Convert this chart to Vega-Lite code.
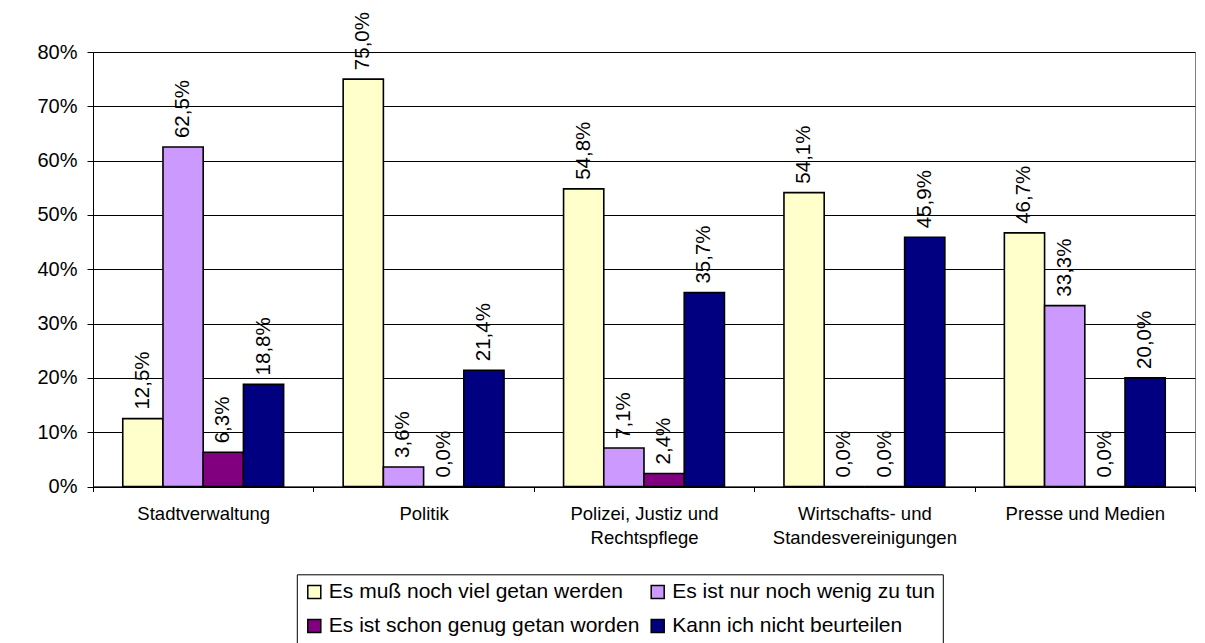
{
  "$schema": "https://vega.github.io/schema/vega-lite/v6.json",
  "width": 1102,
  "height": 434.5,
  "autosize": {"type": "none"},
  "padding": {"left": 93, "top": 52, "right": 10, "bottom": 156.5},
  "background": "white",
  "config": {
    "locale": {"number": {"decimal": ",", "thousands": ".", "grouping": [3], "currency": ["", " €"]}},
    "font": "Liberation Sans",
    "view": {"stroke": "#808080", "strokeWidth": 1},
    "axis": {"labelColor": "black", "tickColor": "black", "domainColor": "black", "labelFont": "Liberation Sans"}
  },
  "data": {
    "values": [
      {"bereich": "Stadtverwaltung", "antwort": "Es muß noch viel getan werden", "wert": 0.125},
      {"bereich": "Stadtverwaltung", "antwort": "Es ist nur noch wenig zu tun", "wert": 0.625},
      {"bereich": "Stadtverwaltung", "antwort": "Es ist schon genug getan worden", "wert": 0.063},
      {"bereich": "Stadtverwaltung", "antwort": "Kann ich nicht beurteilen", "wert": 0.188},
      {"bereich": "Politik", "antwort": "Es muß noch viel getan werden", "wert": 0.75},
      {"bereich": "Politik", "antwort": "Es ist nur noch wenig zu tun", "wert": 0.036},
      {"bereich": "Politik", "antwort": "Es ist schon genug getan worden", "wert": 0.0},
      {"bereich": "Politik", "antwort": "Kann ich nicht beurteilen", "wert": 0.214},
      {"bereich": "Polizei, Justiz und Rechtspflege", "antwort": "Es muß noch viel getan werden", "wert": 0.548},
      {"bereich": "Polizei, Justiz und Rechtspflege", "antwort": "Es ist nur noch wenig zu tun", "wert": 0.071},
      {"bereich": "Polizei, Justiz und Rechtspflege", "antwort": "Es ist schon genug getan worden", "wert": 0.024},
      {"bereich": "Polizei, Justiz und Rechtspflege", "antwort": "Kann ich nicht beurteilen", "wert": 0.357},
      {"bereich": "Wirtschafts- und Standesvereinigungen", "antwort": "Es muß noch viel getan werden", "wert": 0.541},
      {"bereich": "Wirtschafts- und Standesvereinigungen", "antwort": "Es ist nur noch wenig zu tun", "wert": 0.0},
      {"bereich": "Wirtschafts- und Standesvereinigungen", "antwort": "Es ist schon genug getan worden", "wert": 0.0},
      {"bereich": "Wirtschafts- und Standesvereinigungen", "antwort": "Kann ich nicht beurteilen", "wert": 0.459},
      {"bereich": "Presse und Medien", "antwort": "Es muß noch viel getan werden", "wert": 0.467},
      {"bereich": "Presse und Medien", "antwort": "Es ist nur noch wenig zu tun", "wert": 0.333},
      {"bereich": "Presse und Medien", "antwort": "Es ist schon genug getan worden", "wert": 0.0},
      {"bereich": "Presse und Medien", "antwort": "Kann ich nicht beurteilen", "wert": 0.2}
    ]
  },
  "encoding": {
    "x": {
      "field": "bereich",
      "type": "nominal",
      "sort": ["Stadtverwaltung", "Politik", "Polizei, Justiz und Rechtspflege", "Wirtschafts- und Standesvereinigungen", "Presse und Medien"],
      "scale": {"paddingInner": 0, "paddingOuter": 0},
      "axis": {
        "title": null,
        "labelAngle": 0,
        "labelFontSize": 18.5,
        "labelLineHeight": 24,
        "labelPadding": 13,
        "labelLimit": 300,
        "labelOverlap": false,
        "tickSize": 5,
        "tickBand": "extent",
        "grid": false,
        "labelExpr": "datum.label == 'Polizei, Justiz und Rechtspflege' ? ['Polizei, Justiz und', 'Rechtspflege'] : datum.label == 'Wirtschafts- und Standesvereinigungen' ? ['Wirtschafts- und', 'Standesvereinigungen'] : datum.label"
      }
    },
    "xOffset": {
      "field": "antwort",
      "type": "nominal",
      "sort": ["Es muß noch viel getan werden", "Es ist nur noch wenig zu tun", "Es ist schon genug getan worden", "Kann ich nicht beurteilen"],
      "scale": {"paddingInner": 0, "paddingOuter": 0.74}
    },
    "y": {
      "field": "wert",
      "type": "quantitative",
      "scale": {"domain": [0, 0.8], "nice": false},
      "axis": {
        "title": null,
        "values": [0, 0.1, 0.2, 0.3, 0.4, 0.5, 0.6, 0.7, 0.8],
        "format": ".0%",
        "labelFontSize": 20,
        "labelPadding": 10,
        "tickSize": 6,
        "grid": true,
        "gridColor": "black"
      }
    }
  },
  "layer": [
    {
      "mark": {"type": "bar", "stroke": "black", "strokeWidth": 1.6},
      "encoding": {
        "color": {
          "field": "antwort",
          "type": "nominal",
          "scale": {
            "domain": ["Es muß noch viel getan werden", "Es ist nur noch wenig zu tun", "Es ist schon genug getan worden", "Kann ich nicht beurteilen"],
            "range": ["#FFFFCC", "#CC99FF", "#800080", "#000080"]
          },
          "legend": {
            "title": null,
            "orient": "none",
            "direction": "horizontal",
            "legendX": 203.8,
            "legendY": 522.3,
            "columns": 2,
            "gridAlign": "all",
            "padding": 7,
            "rowPadding": 12.3,
            "columnPadding": 7.4,
            "strokeColor": "black",
            "labelFontSize": 21,
            "labelColor": "black",
            "labelFont": "Liberation Sans",
            "labelLimit": 400,
            "labelOffset": 4,
            "symbolType": "square",
            "symbolSize": 169,
            "symbolStrokeColor": "black",
            "symbolStrokeWidth": 1.5
          }
        }
      }
    },
    {
      "mark": {"type": "text", "angle": 270, "align": "left", "baseline": "middle", "dx": 9, "fontSize": 20.5, "color": "black", "font": "Liberation Sans"},
      "encoding": {
        "text": {"field": "wert", "type": "quantitative", "format": ".1%"}
      }
    }
  ]
}
